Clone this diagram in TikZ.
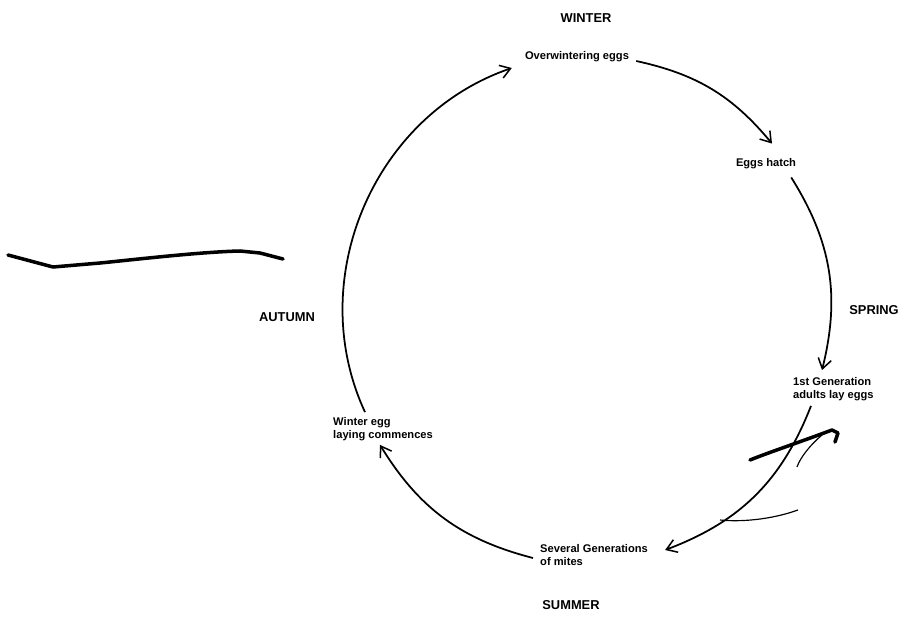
\documentclass[tikz,border=0pt]{standalone}
\usepackage{fontspec}
\setmainfont{Liberation Sans}
\usetikzlibrary{arrows.meta}
\usetikzlibrary{calc}

\begin{document}
\begin{tikzpicture}[x=0.3mm,y=-0.3mm,
  season/.style={font=\fontsize{11}{13}\selectfont\bfseries,inner sep=0pt},
  stage/.style={font=\fontsize{9.5}{11}\selectfont\bfseries,inner sep=0pt,align=left},
  cycle/.style={line width=1.5pt,-{Straight Barb[length=3mm,width=4mm,line width=1.3pt]}},
  scanmark/.style={line width=3pt,line cap=round,line join=round}]
\useasboundingbox[fill=white] (0,0) rectangle (911,626);

\node[season] (winter) at (586,18) {WINTER};
\node[season] (spring) at (874,310) {SPRING};
\node[season] (summer) at (571,605) {SUMMER};
\node[season] (autumn) at (287,317) {AUTUMN};

\node[stage] (over) at (577,57) {Overwintering eggs};
\node[stage] (hatch) at (766,164) {Eggs hatch};
\node[stage,anchor=west] (gen) at (793,389) {1st Generation\\adults lay eggs};
\node[stage,anchor=west] (several) at (540,555) {Several Generations\\of mites};
\node[stage,anchor=west] (winteregg) at (333,429) {Winter egg\\laying commences};

\draw[cycle] ($(over.east)+(7,4)$) to[bend left=19] ($(hatch.north)+(6,-15)$);
\draw[cycle] ($(hatch.south east)+(-5,8)$) to[bend left=23] ($(gen.north west)+(29,-7)$);
\draw[cycle] ($(gen.south west)+(18,5)$) to[bend left=24] ($(several.east)+(17,-5)$);
\draw[cycle] ($(several.west)+(-7,3)$) to[bend left=22] ($(winteregg.south west)+(47,4)$);
\draw[cycle] ($(winteregg.north west)+(32,-5)$) to[bend left=48] ($(over.west)+(-13,11)$);

\draw[scanmark] (8,255) -- (53,267) -- (100,263) .. controls (140,259) and (200,252) .. (240,251) -- (260,253) -- (283,259);
\draw[scanmark] (750,460) .. controls (770,452) and (800,442) .. (832,430) -- (838,433) -- (835,442);
\draw[line width=1pt] (822,435) .. controls (810,445) and (800,458) .. (797,467);
\draw[line width=1pt] (720,520) .. controls (740,522) and (770,520) .. (798,510);
\end{tikzpicture}
\end{document}
